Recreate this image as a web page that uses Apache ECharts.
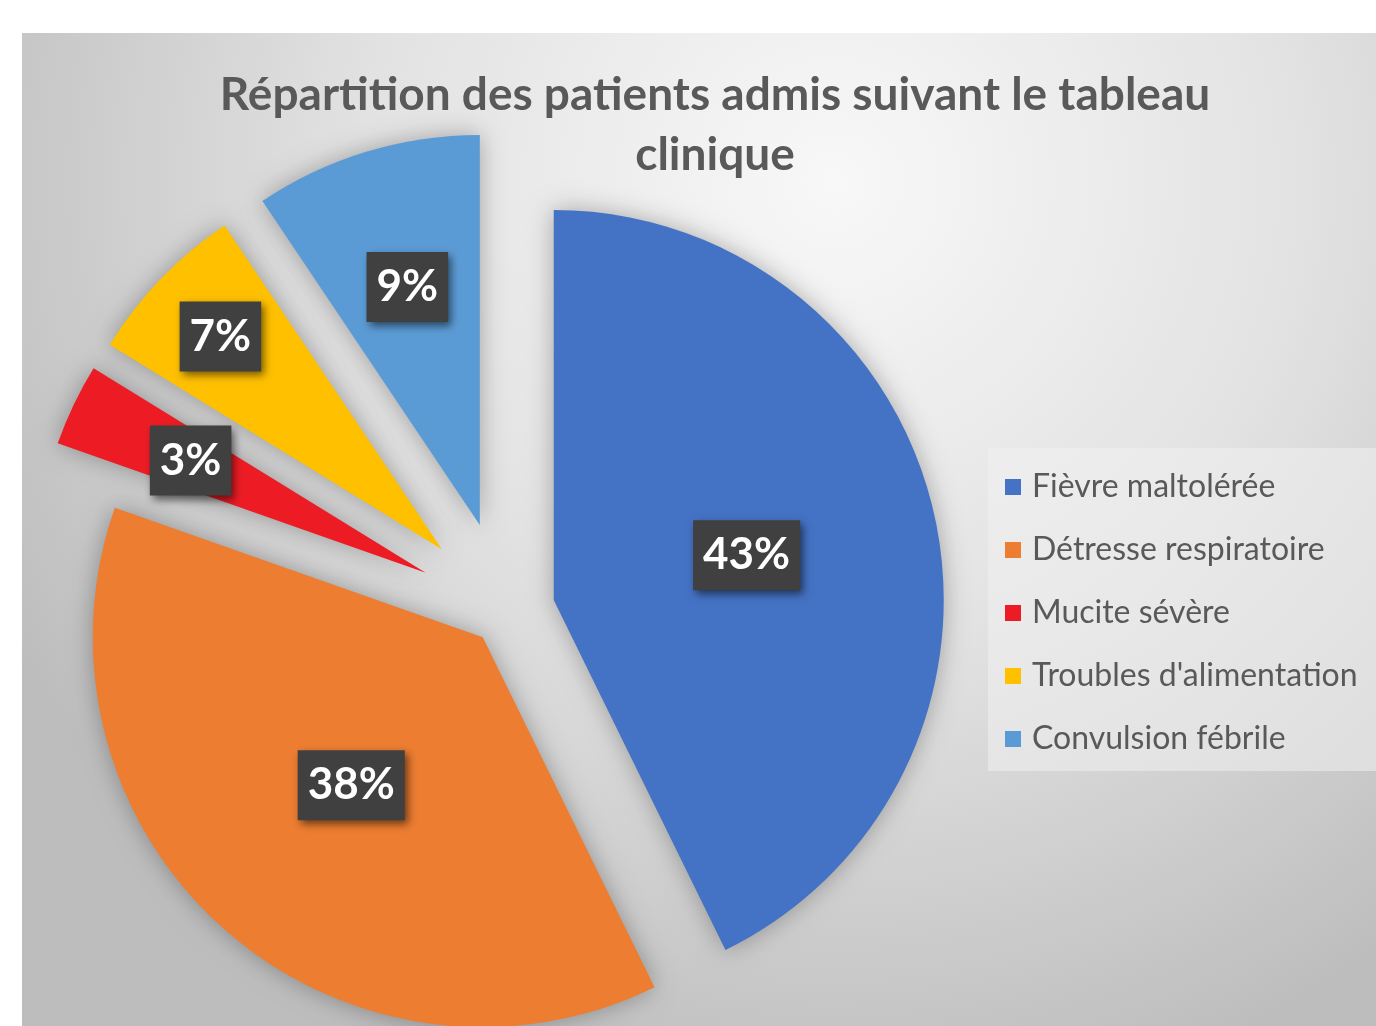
<!DOCTYPE html>
<html>
<head>
<meta charset="utf-8">
<script src="https://cdn.jsdelivr.net/npm/echarts@6/dist/echarts.min.js"></script>
<style>
html, body { margin: 0; padding: 0; background: #fff; }
#main { width: 1376px; height: 1026px; }
</style>
</head>
<body>
<div id="main"></div>
<script>
var categories = ['Fièvre maltolérée', 'Détresse respiratoire', 'Mucite sévère', "Troubles d'alimentation", 'Convulsion fébrile'];
// shares (labels show them rounded)
var shares = [42.7, 37.6, 3.4, 6.8, 9.4];
var colors = ['#4472C4', '#ED7D31', '#ED1C24', '#FFC000', '#5B9BD5'];

// layout: every slice is pulled out of the pie by its own amount
var pieCenter = [506, 611];
var pieRadius = 390;
var explode = [49, 35, 89, 89, 90];
var labelRadius = [0.5, 0.5, 0.66, 0.78, 0.63]; // fraction of radius where the label sits

var labelBox = {
    position: 'inside',
    formatter: '{d}%',
    color: '#fff',
    fontFamily: 'Lato',
    fontWeight: 'bold',
    fontSize: 44,
    lineHeight: 48,
    backgroundColor: '#404040',
    padding: [12, 10, 10, 10],
    shadowBlur: 8,
    shadowColor: 'rgba(0,0,0,0.55)',
    shadowOffsetX: 3,
    shadowOffsetY: 4
};

var series = [];
categories.forEach(function (cat, i) {
    // the visible slice
    series.push({
        type: 'pie',
        center: pieCenter,
        radius: [0, pieRadius],
        startAngle: 90,
        selectedMode: 'multiple',
        selectedOffset: explode[i],
        percentPrecision: 0,
        silent: true,
        emphasis: { disabled: true },
        label: { show: false },
        labelLine: { show: false },
        data: shares.map(function (v, j) {
            var own = j === i;
            return {
                name: categories[j], value: v, selected: true,
                itemStyle: {
                    color: own ? colors[j] : 'rgba(0,0,0,0)',
                    shadowBlur: own ? 24 : 0,
                    shadowColor: 'rgba(0,0,0,0.3)'
                }
            };
        })
    });
    // its label, on a transparent ring so the label sits at the right radius
    series.push({
        type: 'pie',
        z: 3,
        center: pieCenter,
        radius: [(2 * labelRadius[i] - 1) * pieRadius, pieRadius],
        startAngle: 90,
        selectedMode: 'multiple',
        selectedOffset: explode[i],
        percentPrecision: 0,
        silent: true,
        emphasis: { disabled: true },
        itemStyle: { color: 'rgba(0,0,0,0)' },
        label: labelBox,
        labelLine: { show: false },
        data: shares.map(function (v, j) {
            return {
                name: categories[j], value: v, selected: true,
                label: { show: j === i }
            };
        })
    });
});

var chart = echarts.init(document.getElementById('main'));
chart.setOption({
    animation: false,
    graphic: [{
        type: 'rect',
        left: 22, top: 33,
        z: -1,
        silent: true,
        shape: { width: 1354, height: 993 },
        style: {
            fill: new echarts.graphic.RadialGradient(0.6, 0.15, 0.95, [
                { offset: 0, color: '#f8f8f8' },
                { offset: 0.5, color: '#e2e2e2' },
                { offset: 1, color: '#bdbdbd' }
            ])
        }
    }],
    title: {
        text: 'Répartition des patients admis suivant le tableau\nclinique',
        left: 710,
        top: 60,
        textAlign: 'center',
        textStyle: {
            fontFamily: 'Lato',
            fontWeight: 'bold',
            fontSize: 46,
            lineHeight: 60,
            color: '#595959'
        }
    },
    legend: {
        orient: 'vertical',
        left: 988,
        top: 448,
        data: categories.map(function (c, i) {
            return { name: c, itemStyle: { color: colors[i] } };
        }),
        icon: 'rect',
        itemWidth: 16,
        itemHeight: 16,
        itemGap: 29,
        padding: [22, 40, 15, 17],
        backgroundColor: 'rgba(240,240,240,0.55)',
        selectedMode: false,
        textStyle: {
            fontFamily: 'Lato',
            fontSize: 32,
            lineHeight: 34,
            color: '#595959',
            padding: [0, 0, 0, 6]
        }
    },
    series: series
});
</script>
</body>
</html>
